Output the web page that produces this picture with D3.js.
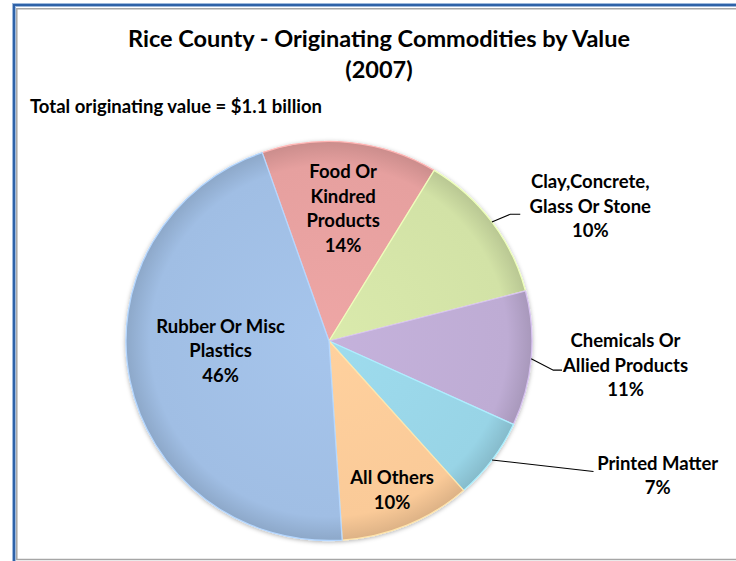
<!DOCTYPE html>
<html>
<head>
<meta charset="utf-8">
<script src="https://cdn.jsdelivr.net/npm/d3@7"></script>
<style>
  html, body { margin: 0; padding: 0; background: #fff; }
  svg { display: block; }
</style>
</head>
<body>
<div id="chart-container"></div>
<script>
// Dữ liệu: tỷ trọng từng nhóm hàng (đọc theo góc của lát bánh)
const categories = [
    "Food Or Kindred Products",
    "Clay,Concrete, Glass Or Stone",
    "Chemicals Or Allied Products",
    "Printed Matter",
    "All Others",
    "Rubber Or Misc Plastics"
];
const labelLines = [
    ["Food Or", "Kindred", "Products"],
    ["Clay,Concrete,", "Glass Or Stone"],
    ["Chemicals Or", "Allied Products"],
    ["Printed Matter"],
    ["All Others"],
    ["Rubber Or Misc", "Plastics"]
];
const shares = [14.0, 12.3, 10.9, 6.6, 10.5, 45.7];
const percentLabels = ["14%", "10%", "11%", "7%", "10%", "46%"];
const sliceColors = ["#E6A09F", "#D2E2A6", "#BEACD4", "#98D4E6", "#FACA98", "#A0BEE4"];

const titleLines = ["Rice County - Originating Commodities by Value", "(2007)"];
const subtitle = "Total originating value = $1.1 billion";

// Cấu hình kích thước
const width = 736;
const height = 561;
const cx = 329, cy = 341;
const radius = 201;
const sx = 1.01, sy = 0.9925; // pie hơi dẹt như ảnh gốc
const font = "Lato, 'Open Sans', sans-serif";

const svg = d3.select("#chart-container")
    .append("svg")
    .attr("width", width)
    .attr("height", height)
    .style("font-family", font);

// Khung viền
svg.append("path")
    .attr("d", `M14,${height} L14,5 L${width},5`)
    .attr("fill", "none")
    .attr("stroke", "#9DB9DD")
    .attr("stroke-width", 4);
svg.append("path")
    .attr("d", `M14,${height} L14,5 L${width},5`)
    .attr("fill", "none")
    .attr("stroke", "#2E62A8")
    .attr("stroke-width", 2);
svg.append("path")
    .attr("d", `M${width},8.7 L16.8,8.7 L16.8,559.5 L${width},559.5`)
    .attr("fill", "none")
    .attr("stroke", "#A6A6A6")
    .attr("stroke-width", 1.5);

// Tiêu đề
svg.selectAll(".title")
    .data(titleLines)
    .enter()
    .append("text")
    .attr("class", "title")
    .attr("x", 379)
    .attr("y", (d, i) => 47 + i * 31)
    .style("text-anchor", "middle")
    .style("font-size", "23.5px")
    .style("font-weight", "bold")
    .text(d => d);

svg.append("text")
    .attr("x", 30)
    .attr("y", 113)
    .style("font-size", "18.5px")
    .style("font-weight", "bold")
    .text(subtitle);

// Bộ lọc bóng + gradient
const defs = svg.append("defs");
const shadow = defs.append("filter").attr("id", "shadow")
    .attr("x", "-10%").attr("y", "-10%").attr("width", "120%").attr("height", "120%");
shadow.append("feDropShadow")
    .attr("dx", 0).attr("dy", 1).attr("stdDeviation", 2)
    .attr("flood-color", "#000").attr("flood-opacity", 0.3);

sliceColors.forEach((c, i) => {
    const g = defs.append("radialGradient")
        .attr("id", `grad-${i}`)
        .attr("gradientUnits", "userSpaceOnUse")
        .attr("cx", 0).attr("cy", 0).attr("r", radius);
    g.append("stop").attr("offset", "0%").attr("stop-color", d3.color(c).brighter(0.1));
    g.append("stop").attr("offset", "88%").attr("stop-color", c);
    g.append("stop").attr("offset", "100%").attr("stop-color", d3.color(c).darker(0.35));
});

const startAngle = -19.2 * Math.PI / 180;
const pie = d3.pie()
    .sort(null)
    .value(d => d)
    .startAngle(startAngle)
    .endAngle(startAngle + 2 * Math.PI);
const arcs = pie(shares);

const arc = d3.arc().innerRadius(0).outerRadius(radius);

const pieG = svg.append("g")
    .attr("transform", `translate(${cx},${cy}) scale(${sx},${sy})`)
    .attr("filter", "url(#shadow)");

pieG.selectAll(".slice")
    .data(arcs)
    .enter()
    .append("path")
    .attr("class", "slice")
    .attr("d", arc)
    .attr("fill", (d, i) => `url(#grad-${i})`)
    .attr("stroke", (d, i) => d3.color(sliceColors[i]).brighter(0.35))
    .attr("stroke-width", 1.3)
    .attr("stroke-linejoin", "round");

// Vị trí nhãn (bố cục, không phải dữ liệu)
const insideLayout = { 0: { k: 0.667, dy: 0 }, 4: { k: 0.808, dy: 0 }, 5: { k: 0.545, dy: -12 } };
const outsideLayout = {
    1: { elbow: [18.4, -7.6], end: [28.4, -7.6], text: [98.4, -33.6] },
    2: { elbow: [22.1, 11.4], end: [30.8, 11.4], text: [94.3, -11.3] },
    3: { elbow: null, end: [101.5, 11.6], text: [165.7, 9.9] }
};
const lineH = 24.5;
const capH = 13;

function polar(a, k) {
    return [cx + sx * radius * k * Math.sin(a), cy - sy * radius * k * Math.cos(a)];
}

arcs.forEach((d, i) => {
    const mid = (d.startAngle + d.endAngle) / 2;
    const lines = labelLines[i].concat([percentLabels[i]]);
    let tx, ty;
    if (insideLayout[i]) {
        const L = insideLayout[i];
        const p = polar(mid, L.k);
        tx = p[0];
        ty = p[1] + L.dy - (lines.length - 1) * lineH / 2 + capH / 2;
    } else {
        const L = outsideLayout[i];
        const e = polar(mid, 1);
        const pts = [e];
        if (L.elbow) pts.push([e[0] + L.elbow[0], e[1] + L.elbow[1]]);
        pts.push([e[0] + L.end[0], e[1] + L.end[1]]);
        svg.append("path")
            .attr("d", d3.line()(pts))
            .attr("fill", "none")
            .attr("stroke", "#000")
            .attr("stroke-width", 1.1);
        tx = e[0] + L.text[0];
        ty = e[1] + L.text[1];
    }
    const t = svg.append("text")
        .attr("class", "label")
        .style("text-anchor", "middle")
        .style("font-size", "18.5px")
        .style("font-weight", "bold")
        .style("fill", "#000");
    lines.forEach((s, j) => {
        t.append("tspan")
            .attr("x", tx)
            .attr("y", ty + j * lineH)
            .text(s);
    });
});
</script>
</body>
</html>
